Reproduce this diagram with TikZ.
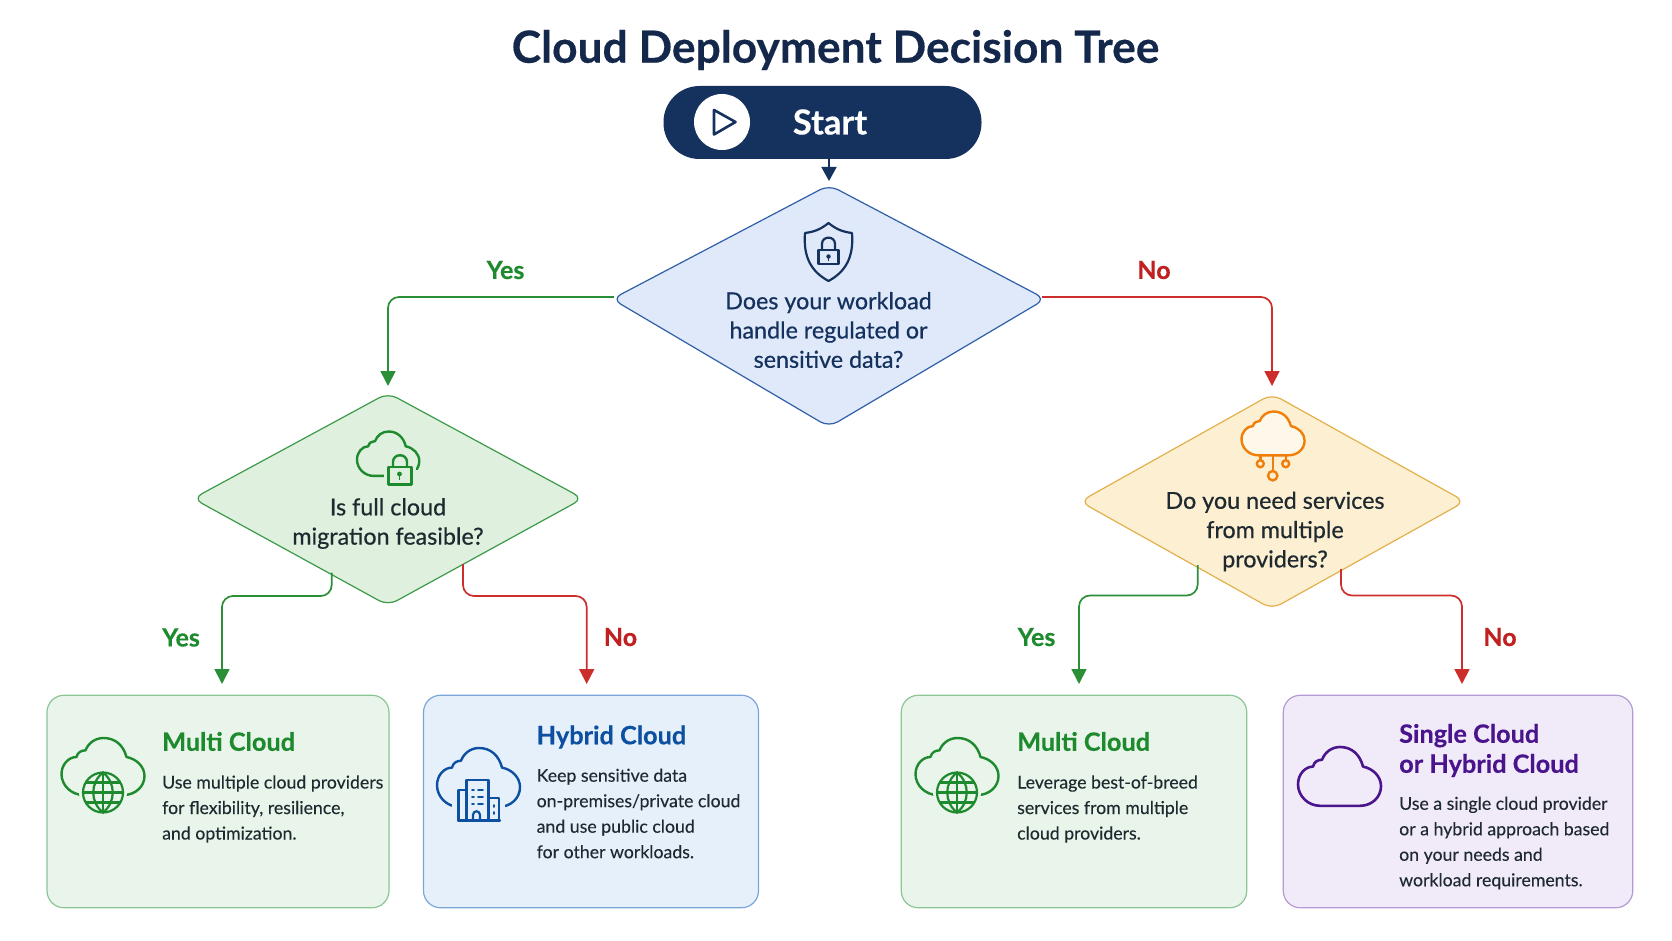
\documentclass[tikz,border=0pt]{standalone}
\usepackage{fontspec}
\setmainfont{Lato}[BoldFeatures={FakeBold=0.35}]
\newfontfamily\medfont{Lato}[FakeBold=0.6]
\newfontfamily\bodyfont{Lato}[FakeBold=0.15]
\usetikzlibrary{arrows.meta}
\definecolor{navy}{HTML}{15325F}
\definecolor{titlec}{HTML}{14284B}
\definecolor{arrgreen}{HTML}{2A8F37}
\definecolor{arrred}{HTML}{CC2E2C}
\definecolor{lblgreen}{HTML}{1E8A2E}
\definecolor{lblred}{HTML}{C0201F}
\definecolor{blued}{HTML}{DFE9F9}
\definecolor{bluedl}{HTML}{2F5FA8}
\definecolor{greend}{HTML}{DFF0DF}
\definecolor{greendl}{HTML}{3C9A48}
\definecolor{yeld}{HTML}{FDF0D2}
\definecolor{yeldl}{HTML}{E3B04B}
\definecolor{orangei}{HTML}{EF7F0A}
\definecolor{cardg}{HTML}{E9F4EA}
\definecolor{cardgl}{HTML}{8CC596}
\definecolor{cardb}{HTML}{E6F0FB}
\definecolor{cardbl}{HTML}{7BA6DC}
\definecolor{cardp}{HTML}{F1EBF9}
\definecolor{cardpl}{HTML}{B49BD6}
\definecolor{iblue}{HTML}{0D4FA0}
\definecolor{ipurple}{HTML}{4A148C}
\definecolor{bodyc}{HTML}{1F2A30}
\tikzset{
  decision/.style={line width=1.2pt, rounded corners=10pt},
  card/.style={draw, line width=1.2pt, rounded corners=17pt},
  conn/.style={line width=1.7pt, rounded corners=11pt, -{Triangle[length=15pt,width=15pt]}},
  qtext/.style={align=center, inner sep=0pt, font=\fontsize{23.3}{29.3}\selectfont\medfont},
  lbl/.style={inner sep=0pt, font=\fontsize{25}{28}\selectfont\bfseries},
  ctitle/.style={anchor=west, align=left, inner sep=0pt, font=\fontsize{25.3}{30}\selectfont\bfseries},
  cbody/.style={anchor=west, align=left, inner sep=0pt, text=bodyc, font=\fontsize{17.7}{25.5}\selectfont\bodyfont},
  icon/.style={line width=2.4pt, line join=round, line cap=round},
  cloudicon/.pic={
    \path[pic actions] (22,60) .. controls (10,60) and (0,50) .. (0,38)
      .. controls (0,28) and (7,20) .. (15,20)
      .. controls (16,15) and (20,13) .. (24,13)
      .. controls (27,5) and (34,0) .. (42,0)
      .. controls (54,0) and (62,8) .. (65,20)
      .. controls (75,22) and (83,30) .. (83,40)
      .. controls (83,51) and (74,60) .. (62,60) -- cycle;
  }
}
\newcommand{\globeicon}[3]{%
  \fill[#3] (#1,#2) circle (24);
  \begin{scope}[shift={(#1,#2)}, icon, draw=lblgreen, line width=2.2pt]
    \draw (0,0) circle (20);
    \draw (0,-20) .. controls (-13,-10) and (-13,10) .. (0,20);
    \draw (0,-20) .. controls (13,-10) and (13,10) .. (0,20);
    \draw (0,-20) -- (0,20);
    \draw (-20,0) -- (20,0);
    \draw (-17,-10) -- (17,-10);
    \draw (-17,10) -- (17,10);
  \end{scope}}
\begin{document}
\begin{tikzpicture}[x=1pt,y=-1pt]
\useasboundingbox (0,0) rectangle (1672,941);
\fill[white] (0,0) rectangle (1672,941);

% title
\node[inner sep=0pt, text=titlec, font=\fontsize{44.3}{50}\selectfont\bfseries] (title) at (835.5,50) {Cloud Deployment Decision Tree};

% start
\node[fill=navy, draw=none, rounded corners=36pt, minimum width=318pt, minimum height=73pt, inner sep=0pt] (start) at (822.5,122.5) {};
\node[inner sep=0pt, text=white, font=\fontsize{34.5}{36}\selectfont\bfseries] (starttxt) at (830,122) {Start};
\node[circle, fill=white, minimum size=56pt, inner sep=0pt] (play) at (722,122) {};
\draw[navy, line width=2.6pt, line join=round] (714,110) -- (735.5,122) -- (714,134.5) -- cycle;

% decisions
\path[decision, draw=bluedl, fill=blued] (829,185) coordinate (q1n) -- (1045.5,299) coordinate (q1e) -- (829,427) coordinate (q1s) -- (612,299) coordinate (q1w) -- cycle;
\path[decision, draw=greendl, fill=greend] (388,393) -- (583,498.5) -- (388,605.5) -- (193,498.5) -- cycle;
\path[decision, draw=yeldl, fill=yeld] (1272,394) -- (1465,501.5) -- (1272,609) -- (1080,501.5) -- cycle;

\coordinate (q1yes) at (614,297);
\coordinate (q1no) at (1042,297);
\coordinate (q2yes) at (331.7,572.7);
\coordinate (q2no) at (463,564);
\coordinate (q3yes) at (1197.7,565);
\coordinate (q3no) at (1341,569);

% cards
\node[card, draw=cardgl, fill=cardg, minimum width=342pt, minimum height=212.5pt, inner sep=0pt] (c1) at (218,801.5) {};
\node[card, draw=cardbl, fill=cardb, minimum width=335pt, minimum height=212.5pt, inner sep=0pt] (c2) at (591,801.5) {};
\node[card, draw=cardgl, fill=cardg, minimum width=345.5pt, minimum height=212.5pt, inner sep=0pt] (c3) at (1074,801.5) {};
\node[card, draw=cardpl, fill=cardp, minimum width=349.5pt, minimum height=212.5pt, inner sep=0pt] (c4) at (1458,801.5) {};

% connectors
\draw[conn, draw=navy, -{Triangle[length=14pt,width=15pt]}] (start.south -| q1n) -- (829,181);
\draw[conn, draw=arrgreen] (q1yes) -| (388,386);
\draw[conn, draw=arrred] (q1no) -| (1272,386);
\draw[conn, draw=arrgreen] (q2yes) |- (280,596) -| (222,684);
\draw[conn, draw=arrred] (q2no) |- (520,596) -| (586.7,684);
\draw[conn, draw=arrgreen] (q3yes) |- (1140,595.5) -| (1079,684);
\draw[conn, draw=arrred] (q3no) |- (1400,595.5) -| (1462,684);

% connector labels
\node[lbl, text=lblgreen] (l1) at (505.5,270) {Yes};
\node[lbl, text=lblred] (l2) at (1154,270) {No};
\node[lbl, text=lblgreen] (l3) at (181,637.5) {Yes};
\node[lbl, text=lblred] (l4) at (620.5,637) {No};
\node[lbl, text=lblgreen] (l5) at (1036.5,637) {Yes};
\node[lbl, text=lblred] (l6) at (1500,637) {No};

% question text
\node[qtext, text=navy] (q1t) at (828.5,330) {Does your workload\\handle regulated or\\sensitive data?};
\node[qtext, text=bodyc] (q2t) at (388,523.5) {Is full cloud\\migration feasible?};
\node[qtext, text=bodyc] (q3t) at (1275,531.5) {Do you need services\\from multiple\\providers?};

% shield icon
\draw[icon, navy, line width=2.2pt] (828.5,223) .. controls (820,230) and (813,232) .. (805,233)
  .. controls (803,258) and (812,272) .. (828.5,281)
  .. controls (845,272) and (854,258) .. (852,233)
  .. controls (844,232) and (837,230) .. (828.5,223) -- cycle;
\draw[icon, navy, line width=2.2pt] (818.5,250) rectangle (838.5,264);
\draw[icon, navy, line width=2.2pt] (822,250) -- (822,244) .. controls (822,235.5) and (835,235.5) .. (835,244) -- (835,250);
\fill[navy] (828.5,256.5) circle (2.2);
\draw[navy, line width=1.5pt] (828.5,257) -- (828.5,261);

% lock cloud icon
\pic[draw=lblgreen, icon, xscale=.75, yscale=.74] at (357,431.5) {cloudicon};
\fill[greend] (384,463) rectangle (415.5,489);
\fill[greend] (412,470) rectangle (422,480);
\draw[icon, lblgreen] (388.5,467) rectangle (411.5,484.5);
\draw[icon, lblgreen] (393,467) -- (393,462) .. controls (393,453) and (407,453) .. (407,462) -- (407,467);
\fill[lblgreen] (399.5,474) circle (2.4);
\draw[lblgreen, line width=1.6pt] (399.5,474.5) -- (399.5,479.5);

% iot cloud icon
\pic[draw=orangei, fill=yeld!45!white, icon, xscale=.76, yscale=.73] at (1241.5,411.5) {cloudicon};
\draw[icon, orangei] (1272.7,455) -- (1272.7,471);
\draw[icon, orangei] (1272.7,475.7) circle (4.7);
\draw[icon, orangei] (1260.3,455) -- (1260.3,460);
\draw[icon, orangei] (1285.7,455) -- (1285.7,460);
\draw[icon, orangei] (1260.3,463.7) circle (3.5);
\draw[icon, orangei] (1285.7,463.7) circle (3.5);

% card icons
\pic[draw=lblgreen, icon, yscale=.95] at (61.5,738) {cloudicon};
\globeicon{103}{792.5}{cardg}
\pic[draw=iblue, icon, yscale=.98] at (437,748) {cloudicon};
\fill[cardb] (452,776) rectangle (505,824);
\begin{scope}[icon, draw=iblue, line width=2.2pt]
  \draw (458,820.5) -- (500,820.5);
  \draw (466.5,820) -- (466.5,780) -- (488.5,780) -- (488.5,820);
  \draw (458.5,820) -- (458.5,790) -- (466,790);
  \draw (488.5,798) -- (499,798) -- (499,820);
  \draw (473,820) -- (473,815) .. controls (473,810) and (480,810) .. (480,815) -- (480,820);
  \draw[line width=1.8pt] (472,790) -- (474,790) (478,790) -- (483,790) (472,797) -- (474,797) (478,797) -- (483,797) (472,804) -- (474,804) (478,804) -- (483,804) (494,805) -- (494,807) (494,812) -- (494,814);
\end{scope}
\pic[draw=lblgreen, icon, yscale=.95] at (915.5,738) {cloudicon};
\globeicon{957}{792.5}{cardg}
\pic[draw=ipurple, icon, line width=2.6pt, yscale=.98] at (1298,747) {cloudicon};

% card text
\node[ctitle, text=lblgreen] (c1h) at (162,741.5) {Multi Cloud};
\node[cbody] (c1b) at (162,809) {Use multiple cloud providers\\for flexibility, resilience,\\and optimization.};
\node[ctitle, text=iblue] (c2h) at (536.5,737) {Hybrid Cloud};
\node[cbody] (c2b) at (536.5,813.5) {Keep sensitive data\\on-premises/private cloud\\and use public cloud\\for other workloads.};
\node[ctitle, text=lblgreen] (c3h) at (1017,741.5) {Multi Cloud};
\node[cbody] (c3b) at (1017,809) {Leverage best-of-breed\\services from multiple\\cloud providers.};
\node[ctitle, text=ipurple] (c4h) at (1399,750.5) {Single Cloud\\or Hybrid Cloud};
\node[cbody] (c4b) at (1399,843) {Use a single cloud provider\\or a hybrid approach based\\on your needs and\\workload requirements.};
\end{tikzpicture}
\end{document}
